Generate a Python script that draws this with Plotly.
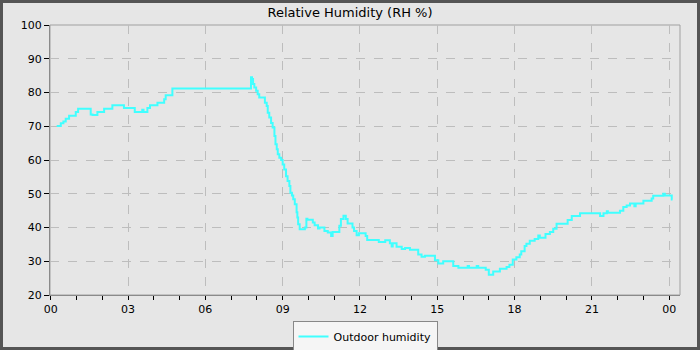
import plotly.graph_objects as go

# Hours since midnight (start of each reading step) and relative humidity (%)
hours = [0.23, 0.39, 0.49, 0.58, 0.71, 0.97, 1.06, 1.55, 1.62, 1.81, 2.07, 2.39, 2.84, 3.26, 3.55, 3.60,
         3.75, 3.85, 4.14, 4.40, 4.46, 4.72, 7.75, 7.77, 7.81, 7.85, 7.90, 7.97, 8.03, 8.09, 8.31, 8.38,
         8.42, 8.48, 8.55, 8.61, 8.68, 8.72, 8.77, 8.81, 8.87, 8.94, 9.00, 9.06, 9.13, 9.19, 9.26, 9.30,
         9.36, 9.41, 9.47, 9.54, 9.57, 9.60, 9.66, 9.86, 9.92, 9.96, 10.17, 10.24, 10.37, 10.43, 10.62,
         10.75, 10.88, 10.94, 11.20, 11.26, 11.36, 11.45, 11.52, 11.71, 11.77, 11.87, 11.96, 12.22, 12.28,
         12.73, 12.98, 13.16, 13.23, 13.27, 13.42, 13.62, 13.75, 13.94, 14.26, 14.39, 14.52, 14.91, 15.04,
         15.23, 15.62, 15.82, 16.18, 16.23, 16.53, 16.59, 16.88, 17.00, 17.17, 17.43, 17.69, 17.80, 17.93,
         18.07, 18.20, 18.26, 18.39, 18.46, 18.59, 18.78, 18.92, 18.98, 19.20, 19.37, 19.50, 19.63, 20.06,
         20.22, 20.54, 21.26, 21.32, 21.45, 21.58, 21.62, 22.09, 22.22, 22.35, 22.48, 22.65, 22.70, 23.00,
         23.32, 23.38, 23.77, 23.83, 24.10, 24.13]
humidity = [70.1, 70.9, 71.4, 72.2, 73.1, 74.2, 75.2, 73.5, 73.3, 74.2, 75.2, 76.2, 75.4, 74.2, 74.9, 74.2,
            75.4, 76.2, 77.0, 78.0, 79.2, 81.2, 81.2, 84.5, 84.0, 82.5, 81.5, 80.5, 79.5, 78.5, 77.0, 76.0,
            74.0, 72.6, 71.0, 69.6, 67.1, 64.7, 63.2, 61.7, 60.7, 60.0, 58.7, 57.2, 55.2, 53.8, 52.3, 50.3,
            49.5, 48.4, 46.9, 44.5, 43.0, 41.0, 39.5, 40.0, 42.6, 42.3, 41.5, 40.7, 39.7, 40.0, 39.0,
            38.5, 37.5, 38.7, 40.5, 42.5, 43.5, 42.5, 41.2, 40.0, 39.0, 37.7, 38.3, 37.5, 36.3,
            35.7, 36.2, 35.3, 34.4, 35.3, 34.3, 33.6, 33.9, 33.4, 32.0, 31.3, 31.6, 30.3, 29.3,
            30.0, 28.6, 28.1, 28.6, 28.1, 28.6, 28.1, 27.5, 26.0, 27.0, 27.8, 28.3, 29.0, 30.5,
            31.2, 32.0, 33.0, 34.5, 35.2, 36.1, 36.6, 37.6, 37.0, 38.1, 38.7, 39.6, 41.1, 42.2,
            43.4, 44.2, 44.2, 43.4, 44.2, 44.8, 44.4, 45.0, 46.1, 46.5, 47.1, 46.3, 47.1, 47.9,
            48.6, 49.4, 50.0, 49.5, 48.3, 48.3]

tick_hours = [0, 3, 6, 9, 12, 15, 18, 21, 24]
tick_labels = ["00", "03", "06", "09", "12", "15", "18", "21", "00"]
y_ticks = [20, 30, 40, 50, 60, 70, 80, 90, 100]

L, R, T, B = 50, 20, 25, 55
W, H = 700, 350
pw, ph = W - L - R, H - T - B

fig = go.Figure()
fig.add_trace(go.Scatter(
    x=hours, y=humidity, mode="lines", line_shape="hv",
    line=dict(color="#40ffff", width=2), name="Outdoor humidity", showlegend=True,
))

grid = dict(showgrid=True, gridcolor="#bdbdbd", griddash="dash", gridwidth=1)
fig.update_xaxes(
    range=[-0.03, 24.42], tickvals=tick_hours, ticktext=tick_labels,
    ticks="outside", ticklen=4, tickcolor="#000", showline=True, linecolor="#8a8a8a", linewidth=1,
    minor=dict(dtick=1, tick0=0, ticks="outside", ticklen=4, tickcolor="#000", showgrid=False),
    zeroline=False, tickfont=dict(size=11, color="#000"), **grid,
)
fig.update_yaxes(
    range=[20, 100], tickvals=y_ticks, ticks="outside", ticklen=5, tickcolor="#000",
    showline=True, linecolor="#8a8a8a", linewidth=1, zeroline=False,
    tickfont=dict(size=11, color="#000"), **grid,
)

# plot frame (top/right) and outer border
fig.add_shape(type="rect", xref="paper", yref="paper", x0=0, x1=1, y0=0, y1=1,
              line=dict(color="#a0a0a0", width=1), layer="below")
fig.add_shape(type="rect", xref="paper", yref="paper",
              x0=(-L + 1.5) / pw, x1=1 + (R - 1.5) / pw,
              y0=(-B + 1.5) / ph, y1=1 + (T - 1.5) / ph,
              line=dict(color="#555555", width=3))

fig.update_layout(
    width=W, height=H, margin=dict(l=L, r=R, t=T, b=B, autoexpand=False),
    paper_bgcolor="#e6e6e6", plot_bgcolor="#e6e6e6",
    font=dict(family="DejaVu Sans", size=11, color="#000"),
    title=dict(text="Relative Humidity (RH %)", x=0.5, xanchor="center", y=1 - 12 / H,
               yanchor="middle", font=dict(size=13, color="#000")),
    showlegend=True,
    legend=dict(orientation="h", x=0.5, xanchor="center", y=(-(336.5 - (H - B))) / ph, yanchor="middle",
                bgcolor="#f5f5f5", bordercolor="#888888", borderwidth=1, itemwidth=30,
                font=dict(size=11, color="#000")),
)

fig.write_html("out.html", config={"displayModeBar": False},
               post_script="document.body.style.margin='0';")
